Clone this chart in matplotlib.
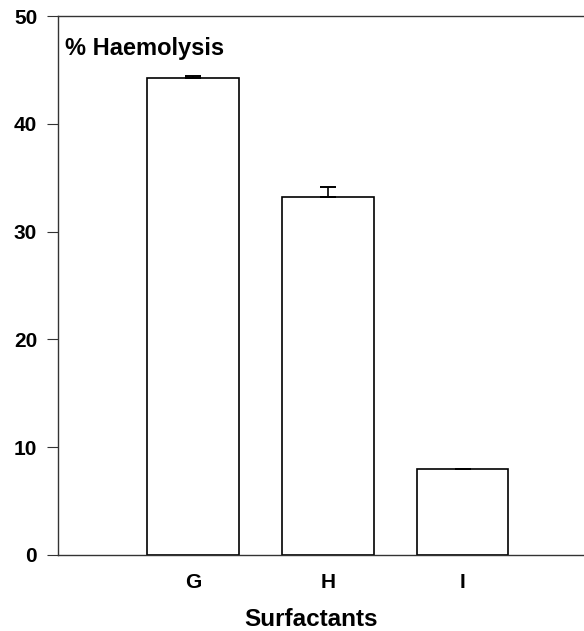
import matplotlib.pyplot as plt

plt.rcParams["font.family"] = ["Liberation Sans", "DejaVu Sans"]
plt.rcParams["font.weight"] = "bold"

surfactants = ["G", "H", "I"]
haemolysis = [44.25, 33.2, 7.95]
err_up = [0.2, 0.9, 0.05]
y_ticks = [0, 10, 20, 30, 40, 50]

fig = plt.figure(figsize=(5.84, 6.31), dpi=100)
ax = fig.add_axes([58 / 584, 76 / 631, 1 - 58 / 584, 539 / 631])

x = range(1, len(surfactants) + 1)
ax.bar(x, haemolysis, width=0.68, color="white", edgecolor="black",
       linewidth=1.2, zorder=2)
ax.errorbar(x, haemolysis, yerr=[[0] * 3, err_up], fmt="none",
            ecolor="black", elinewidth=1.2, capsize=6, capthick=1.4, zorder=3)

ax.set_xlim(0, 3.9)
ax.set_ylim(0, 50)
ax.set_yticks(y_ticks)
ax.set_xticks(list(x))
ax.set_xticklabels(surfactants)

for side in ["left", "bottom", "top"]:
    ax.spines[side].set_color("#333333")
    ax.spines[side].set_linewidth(1.0)
ax.spines["right"].set_visible(False)

ax.tick_params(axis="y", length=8, width=0.8, color="#333333", pad=7,
               labelsize=15)
ax.tick_params(axis="x", length=0, pad=13, labelsize=15)

ax.text(7 / 526, 0.94, "% Haemolysis", transform=ax.transAxes,
        fontsize=17, fontweight="bold", ha="left", va="center")

fig.text(311 / 584, 12 / 631, "Surfactants", fontsize=17.5, fontweight="bold",
         ha="center", va="center")

fig.savefig("out.png", dpi=100)
